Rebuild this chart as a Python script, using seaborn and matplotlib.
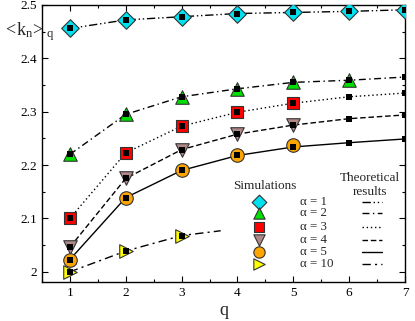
import numpy as np
import pandas as pd
import matplotlib
matplotlib.use('Agg')
import matplotlib.pyplot as plt
import seaborn as sns
from matplotlib.ticker import MultipleLocator

# simulation results (markers), q = 1..n
q_sim = [1, 2, 3, 4, 5, 6, 7]
sim_a1 = [2.456, 2.472, 2.478, 2.484, 2.486, 2.488, 2.491]
sim_a2 = [2.220, 2.295, 2.328, 2.343, 2.355, 2.359]
sim_a3 = [2.100, 2.223, 2.273, 2.299, 2.316]
sim_a4 = [2.046, 2.175, 2.229, 2.258, 2.275]
sim_a5 = [2.023, 2.139, 2.190, 2.218, 2.237]
sim_a10 = [2.000, 2.039, 2.068]

# theoretical results (lines + small squares)
q_th = [1, 2, 3, 4, 5, 6, 7]
th_a1 = [2.456, 2.472, 2.478, 2.484, 2.486, 2.488, 2.491]
th_a2 = [2.220, 2.295, 2.328, 2.343, 2.355, 2.359, 2.365]
th_a3 = [2.100, 2.223, 2.273, 2.299, 2.316, 2.328, 2.335]
th_a4 = [2.046, 2.175, 2.229, 2.258, 2.275, 2.287, 2.294]
th_a5 = [2.023, 2.139, 2.190, 2.218, 2.234, 2.242, 2.249]
q_th10 = [1, 2, 3, 3.7]
th_a10 = [2.000, 2.039, 2.068, 2.077]

alpha_labels = ['1', '2', '3', '4', '5', '10']

series = [
    # sim, theory q, theory y, marker, color, size, linestyle
    (sim_a1, q_th, th_a1, 'D', '#00e0ee', 80, (0, (6, 2, 1, 2, 1, 2))),
    (sim_a2, q_th, th_a2, '^', '#00e000', 95, (0, (5, 2.5, 1, 2.5))),
    (sim_a3, q_th, th_a3, 's', '#ff0000', 65, (0, (1, 2))),
    (sim_a4, q_th, th_a4, 'v', '#b08888', 95, (0, (4, 2))),
    (sim_a5, q_th, th_a5, 'o', '#ffa500', 95, '-'),
    (sim_a10, q_th10, th_a10, '>', '#ffff00', 95, (0, (6, 3, 1.5, 3))),
]

sns.set_style('ticks')
plt.rcParams['font.family'] = ['Liberation Serif', 'DejaVu Serif']
plt.rcParams['mathtext.fontset'] = 'custom'
plt.rcParams['mathtext.rm'] = 'Liberation Serif'

fig = plt.figure(figsize=(4.15, 3.21), dpi=100)
ax = fig.add_axes([0.101, 0.1215, 0.875, 0.863])

for sim, qt, th, mk, col, sz, ls in series:
    df_th = pd.DataFrame({'q': qt, 'k': th})
    sns.lineplot(data=df_th, x='q', y='k', ax=ax, color='black', lw=1.0,
                 linestyle=ls, estimator=None, zorder=2)
    df_sim = pd.DataFrame({'q': q_sim[:len(sim)], 'k': sim})
    sns.scatterplot(data=df_sim, x='q', y='k', ax=ax, marker=mk, s=sz,
                    color=col, edgecolor='#333333', linewidth=0.8, zorder=3)
    df_dot = df_th[df_th['q'] == df_th['q'].round()]
    sns.scatterplot(data=df_dot, x='q', y='k', ax=ax, marker='s', s=16,
                    color='black', edgecolor='black', linewidth=0, zorder=4)

ax.set_xlim(0.5, 7)
ax.set_ylim(1.981, 2.5)
ax.xaxis.set_major_locator(MultipleLocator(1))
ax.xaxis.set_minor_locator(MultipleLocator(0.5))
ax.yaxis.set_major_locator(MultipleLocator(0.1))
ax.yaxis.set_minor_locator(MultipleLocator(0.05))
ax.set_yticks([2.0, 2.1, 2.2, 2.3, 2.4, 2.5])
ax.set_yticklabels(['2', '2.1', '2.2', '2.3', '2.4', '2.5'])
ax.tick_params(which='both', direction='in', top=True, right=True,
               labelsize=9.5, width=0.8, colors='black')
ax.tick_params(which='major', length=4.5)
ax.tick_params(which='minor', length=2.2)
for sp in ax.spines.values():
    sp.set_linewidth(1.0)
    sp.set_color('black')

ax.set_xlabel('q', fontsize=13, labelpad=2)
ax.set_ylabel('')
fig.text(0.005, 0.89, r'$\mathrm{<\!k_n\!>_q}$', fontsize=13, ha='left', va='baseline')

# legend, drawn by hand
ax.text(0.614, 0.347, 'Simulations', transform=ax.transAxes, ha='center', va='center', fontsize=9.5)
ax.text(0.904, 0.375, 'Theoretical', transform=ax.transAxes, ha='center', va='center', fontsize=9.5)
ax.text(0.904, 0.325, 'results', transform=ax.transAxes, ha='center', va='center', fontsize=9.5)
rows = [0.290, 0.249, 0.200, 0.152, 0.110, 0.064]
for (sim, qt, th, mk, col, sz, ls), lab, yy in zip(series, alpha_labels, rows):
    ax.scatter([0.598], [yy], transform=ax.transAxes, marker=mk, s=sz * 0.7,
               color=col, edgecolor='#333333', linewidth=0.8, zorder=5, clip_on=False)
    ax.text(0.711, yy, '\u03b1 = ' + lab, transform=ax.transAxes, ha='left', va='center', fontsize=9.3)
    ax.plot([0.882, 0.936], [yy, yy], transform=ax.transAxes, color='black',
            lw=1.0, linestyle=ls)

fig.savefig('out.png', dpi=100)
